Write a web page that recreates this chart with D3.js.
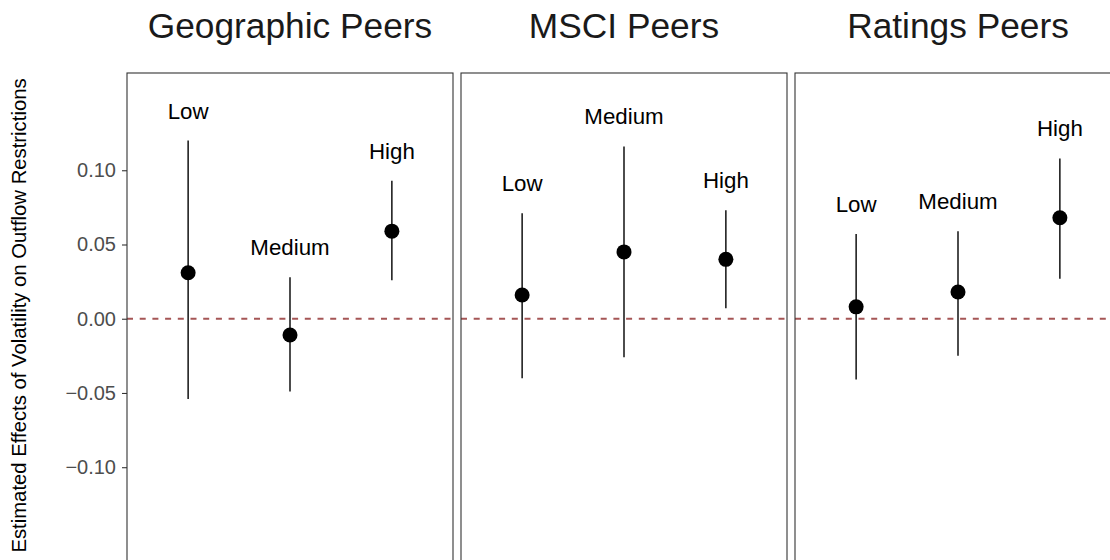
<!DOCTYPE html>
<html>
<head>
<meta charset="utf-8">
<script src="https://cdn.jsdelivr.net/npm/d3@7"></script>
<style>
  html, body { margin: 0; padding: 0; background: #fff; }
  svg { display: block; font-family: "Liberation Sans", Arial, sans-serif; }
</style>
</head>
<body>
<svg id="chart" width="1110" height="560"></svg>
<script>
// ---- data ----
const panels = ["Geographic Peers", "MSCI Peers", "Ratings Peers"];
const levels = ["Low", "Medium", "High"];
const estimates = [
  [0.031, -0.011, 0.059],
  [0.016, 0.045, 0.040],
  [0.008, 0.018, 0.068]
];
const lowerCI = [
  [-0.054, -0.049, 0.026],
  [-0.040, -0.026, 0.007],
  [-0.041, -0.025, 0.027]
];
const upperCI = [
  [0.120, 0.028, 0.093],
  [0.071, 0.116, 0.073],
  [0.057, 0.059, 0.108]
];
const yTicks = [-0.10, -0.05, 0.00, 0.05, 0.10];
const yTitle = "Estimated Effects of Volatility on Outflow Restrictions";

// ---- layout ----
const svg = d3.select("#chart");
const panelLeft0 = 127, panelW = 326, panelGap = 8;
const panelTop = 73, panelBottom = 586;

const y = d3.scaleLinear().domain([-0.18, 0.1655]).range([panelBottom, panelTop]);
const x = d3.scalePoint().domain(levels).range([0, panelW]).padding(0.6);

// y axis
const yAxis = d3.axisLeft(y).tickValues(yTicks).tickSize(5).tickPadding(6).tickFormat(d3.format(".2f"));
const ag = svg.append("g").attr("transform", `translate(${panelLeft0},0)`).call(yAxis);
ag.select(".domain").remove();
ag.selectAll(".tick line").attr("stroke", "#333").attr("stroke-width", 1.1);
ag.selectAll(".tick text").attr("fill", "#4d4d4d").style("font-size", "20px");

// y title
svg.append("text")
  .attr("transform", "translate(26,315.5) rotate(-90)")
  .attr("text-anchor", "middle")
  .style("font-size", "20.3px")
  .attr("fill", "#000")
  .text(yTitle);

panels.forEach((p, i) => {
  const left = panelLeft0 + i * (panelW + panelGap);
  const g = svg.append("g").attr("transform", `translate(${left},0)`);

  // title
  svg.append("text")
    .attr("x", left + panelW / 2).attr("y", 38)
    .attr("text-anchor", "middle")
    .style("font-size", "35.3px")
    .attr("fill", "#1a1a1a")
    .text(p);

  // zero line
  g.append("line")
    .attr("x1", 0).attr("x2", panelW)
    .attr("y1", y(0)).attr("y2", y(0))
    .attr("stroke", "#a55555").attr("stroke-width", 2)
    .attr("stroke-dasharray", "6,6.7");

  levels.forEach((lv, j) => {
    const cx = x(lv);
    g.append("line")
      .attr("x1", cx).attr("x2", cx)
      .attr("y1", y(lowerCI[i][j])).attr("y2", y(upperCI[i][j]))
      .attr("stroke", "#000").attr("stroke-width", 1.4);
    g.append("circle")
      .attr("cx", cx).attr("cy", y(estimates[i][j]))
      .attr("r", 7.5).attr("fill", "#000");
    g.append("text")
      .attr("x", cx).attr("y", y(upperCI[i][j]) - 22)
      .attr("text-anchor", "middle")
      .style("font-size", "22.3px")
      .attr("fill", "#000")
      .text(lv);
  });

  // panel border
  g.append("rect")
    .attr("x", 0).attr("y", panelTop)
    .attr("width", panelW).attr("height", panelBottom - panelTop)
    .attr("fill", "none").attr("stroke", "#333").attr("stroke-width", 1.1);
});
</script>
</body>
</html>
